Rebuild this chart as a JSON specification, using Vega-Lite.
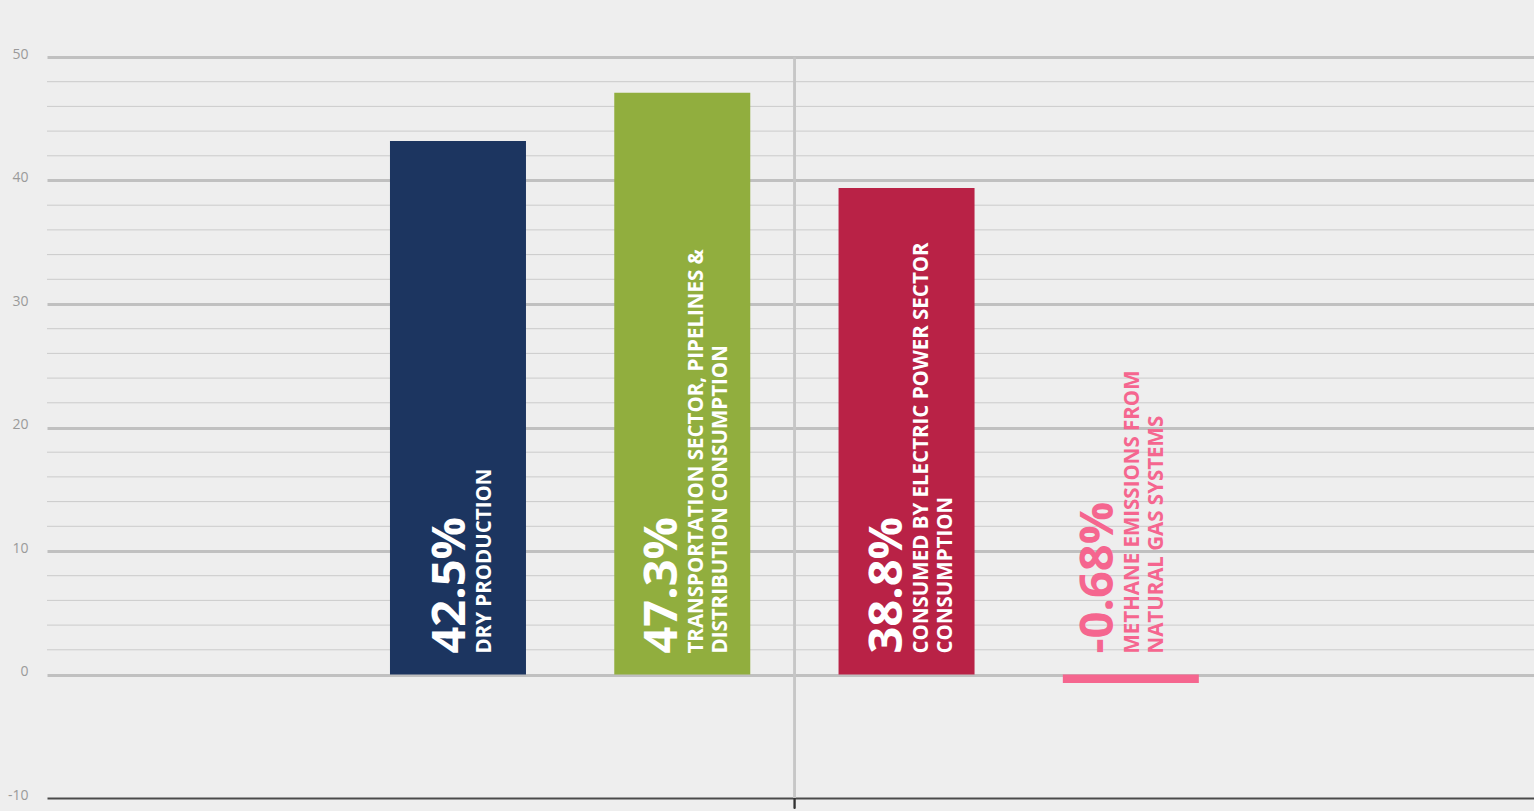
{
  "$schema": "https://vega.github.io/schema/vega-lite/v6.json",
  "width": 1487,
  "height": 741,
  "autosize": {"type": "none"},
  "padding": {"left": 47, "top": 57, "right": 0, "bottom": 13},
  "background": "#eeeeee",
  "config": {
    "view": {"stroke": null},
    "font": "Open Sans"
  },
  "data": {
    "values": [
      {"cat": "dry", "value": 43.2, "label": "42.5%", "sub": "DRY PRODUCTION"},
      {"cat": "transport", "value": 47.1, "label": "47.3%", "sub": "TRANSPORTATION SECTOR, PIPELINES &\nDISTRIBUTION CONSUMPTION"},
      {"cat": "power", "value": 39.4, "label": "38.8%", "sub": "CONSUMED BY ELECTRIC POWER SECTOR\nCONSUMPTION"},
      {"cat": "methane", "value": -0.68, "label": "-0.68%", "sub": "METHANE EMISSIONS FROM\nNATURAL GAS SYSTEMS"}
    ]
  },
  "encoding": {
    "x": {
      "field": "cat",
      "type": "nominal",
      "sort": null,
      "axis": null,
      "scale": {"domain": ["padA", "dry", "transport", "power", "methane", "padB"], "paddingInner": 0.394, "paddingOuter": 0.512, "align": 0.517}
    }
  },
  "layer": [
    {
      "data": {"values": [{"m": 2}, {"m": 4}, {"m": 6}, {"m": 8}, {"m": 12}, {"m": 14}, {"m": 16}, {"m": 18}, {"m": 22}, {"m": 24}, {"m": 26}, {"m": 28}, {"m": 32}, {"m": 34}, {"m": 36}, {"m": 38}, {"m": 42}, {"m": 44}, {"m": 46}, {"m": 48}]},
      "mark": {"type": "rule", "color": "#cbcbcb", "strokeWidth": 1},
      "encoding": {"x": null, "y": {"field": "m", "type": "quantitative", "title": null}}
    },
    {
      "mark": {"type": "rule", "color": "#c6c6c6", "strokeWidth": 2, "xOffset": -112},
      "encoding": {"x": {"datum": "power"}, "y": {"datum": 50}, "y2": {"datum": -10}}
    },
    {
      "mark": {"type": "rule", "color": "#333333", "strokeWidth": 1.5, "xOffset": -112, "clip": false},
      "encoding": {"x": {"datum": "power"}, "y": {"datum": -10}, "y2": {"datum": -10.85}}
    },
    {
      "mark": {"type": "bar", "width": 136},
      "encoding": {
        "y": {
          "field": "value",
          "type": "quantitative",
          "scale": {"domain": [-10, 50], "nice": false, "zero": false},
          "axis": {
            "title": null,
            "values": [-10, 0, 10, 20, 30, 40, 50],
            "labelExpr": "'' + datum.value",
            "labelOverlap": false,
            "domain": false,
            "ticks": false,
            "tickSize": 0,
            "labelPadding": 19,
            "labelFont": "Open Sans",
            "labelFontSize": 14,
            "labelColor": "#9a9a9a",
            "labelOffset": -3,
            "grid": true,
            "gridColor": {"condition": {"test": "datum.value === -10", "value": "#4a4a4a"}, "value": "#c0c0c0"},
            "gridWidth": {"condition": {"test": "datum.value === -10", "value": 2}, "value": 3}
          }
        },
        "color": {
          "field": "cat",
          "type": "nominal",
          "legend": null,
          "scale": {"domain": ["dry", "transport", "power", "methane"], "range": ["#1c3560", "#91ae3e", "#b92246", "#f5668f"]}
        }
      }
    },
    {
      "mark": {
        "type": "text",
        "angle": 270,
        "align": "left",
        "baseline": "alphabetic",
        "font": "Open Sans",
        "fontWeight": "bold",
        "fontSize": 47,
        "yOffset": -21,
        "xOffset": {"expr": "datum.value < 0 ? -18 : (indexof(datum.sub, '\\n') >= 0 ? -5 : 7)"}
      },
      "encoding": {
        "y": {"datum": 0},
        "text": {"field": "label"},
        "color": {"condition": {"test": "datum.value < 0", "value": "#f5668f"}, "value": "#ffffff"}
      }
    },
    {
      "mark": {
        "type": "text",
        "angle": 270,
        "align": "left",
        "baseline": "alphabetic",
        "font": "Open Sans",
        "fontWeight": "bold",
        "fontSize": 20.5,
        "lineHeight": 24,
        "lineBreak": "\n",
        "yOffset": -21,
        "xOffset": {"expr": "datum.value < 0 ? 8 : (indexof(datum.sub, '\\n') >= 0 ? 21 : 33)"}
      },
      "encoding": {
        "y": {"datum": 0},
        "text": {"field": "sub"},
        "color": {"condition": {"test": "datum.value < 0", "value": "#f5668f"}, "value": "#ffffff"}
      }
    }
  ]
}
